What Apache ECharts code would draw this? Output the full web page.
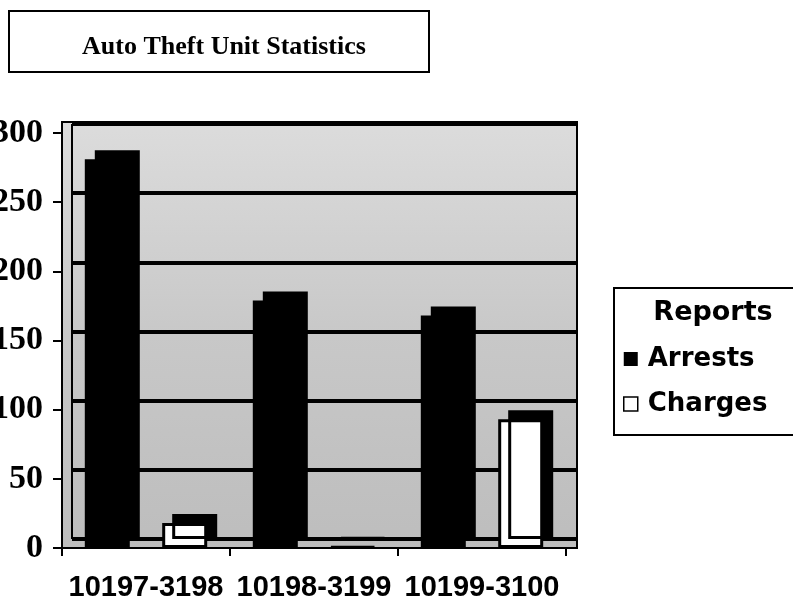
<!DOCTYPE html>
<html>
<head>
<meta charset="utf-8">
<script src="https://cdn.jsdelivr.net/npm/echarts@6/dist/echarts.min.js"></script>
<style>html,body{margin:0;padding:0;background:#fff}#c{width:793px;height:607px}</style>
</head>
<body>
<div id="c"></div>
<script>
var categories = ['10197-3198', '10198-3199', '10199-3100'];
var arrests = [281, 179, 168];
var charges = [18, 1, 93];
var yTicks = [0, 50, 100, 150, 200, 250, 300];
var titleText = 'Auto Theft Unit Statistics';
var legendTitle = 'Reports';

var chart = echarts.init(document.getElementById('c'), null, {renderer: 'canvas'});
var barShadow = {shadowColor: '#000', shadowBlur: 0, shadowOffsetX: 10, shadowOffsetY: -9};
var option = {
  backgroundColor: '#fff',
  animation: false,
  graphic: [
    {type: 'rect', shape: {x: 9, y: 11, width: 420, height: 61}, style: {fill: '#fff', stroke: '#000', lineWidth: 2}, z: 0},
    {type: 'rect', shape: {x: 62, y: 122, width: 515, height: 426},
      style: {fill: new echarts.graphic.LinearGradient(0, 0, 0, 1, [
        {offset: 0, color: '#dcdcdc'}, {offset: 0.5, color: '#c8c8c8'}, {offset: 1, color: '#bdbdbd'}]),
        stroke: '#000', lineWidth: 2}, z: -10},
    {type: 'line', shape: {x1: 72, y1: 124, x2: 72, y2: 539}, style: {stroke: '#000', lineWidth: 2}, z: -5},
    {type: 'rect', shape: {x: 614, y: 288, width: 200, height: 147}, style: {fill: '#fff', stroke: '#000', lineWidth: 2}, z: 0},
    {type: 'text', x: 713, y: 313, style: {text: legendTitle, font: 'bold 27px "DejaVu Sans", sans-serif', fill: '#000', align: 'center', verticalAlign: 'middle'}, z: 5}
  ],
  title: {
    text: titleText, left: 219, top: 29, textAlign: 'center',
    textStyle: {fontFamily: '"Liberation Serif", "Times New Roman", serif', fontWeight: 'bold', fontSize: 26, color: '#000'}
  },
  legend: {
    orient: 'vertical', left: 618, top: 341, itemGap: 19, itemWidth: 14, itemHeight: 14,
    textStyle: {fontFamily: '"DejaVu Sans", sans-serif', fontWeight: 'bold', fontSize: 26, color: '#000', padding: [0, 0, 0, 5]},
    data: [
      {name: 'Arrests', icon: 'rect', itemStyle: {color: '#000', shadowOffsetX: 0, shadowOffsetY: 0, shadowColor: 'transparent'}},
      {name: 'Charges', icon: 'rect', itemStyle: {color: '#fff', borderColor: '#000', borderWidth: 1.5, shadowOffsetX: 0, shadowOffsetY: 0, shadowColor: 'transparent'}}
    ]
  },
  grid: [
    {left: 72, right: 216, top: 124, bottom: 68, show: false, containLabel: false, outerBoundsMode: 'none'},
    {left: 62, right: 227, top: 133, bottom: 59, show: false, containLabel: false, outerBoundsMode: 'none'}
  ],
  xAxis: [
    {type: 'category', gridIndex: 0, data: categories, show: false},
    {type: 'category', gridIndex: 1, data: categories,
      axisLine: {show: true, lineStyle: {color: '#000', width: 2}},
      axisTick: {show: true, length: 8, lineStyle: {color: '#000', width: 2}},
      axisLabel: {interval: 0, hideOverlap: false, margin: 25, color: '#000', fontFamily: '"Liberation Sans", Arial, sans-serif', fontWeight: 'bold', fontSize: 29}
    }
  ],
  yAxis: [
    {type: 'value', gridIndex: 0, min: 0, max: 300, interval: 50,
      axisLine: {show: false}, axisTick: {show: false}, axisLabel: {show: false},
      splitLine: {show: true, lineStyle: {color: '#000', width: 4}}
    },
    {type: 'value', gridIndex: 1, min: 0, max: 300, interval: 50,
      axisLine: {show: true, lineStyle: {color: '#000', width: 2}},
      axisTick: {show: true, length: 9, lineStyle: {color: '#000', width: 2}},
      splitLine: {show: false},
      axisLabel: {margin: 19, color: '#000', fontFamily: '"Liberation Serif", "Times New Roman", serif', fontWeight: 'bold', fontSize: 34,
        formatter: function (v) { return yTicks.indexOf(v) >= 0 ? String(v) : ''; }}
    }
  ],
  series: [
    {name: 'Arrests', type: 'bar', xAxisIndex: 1, yAxisIndex: 1, data: arrests, barWidth: 45, barGap: '72%',
      itemStyle: Object.assign({color: '#000'}, barShadow)},
    {name: 'Charges', type: 'bar', xAxisIndex: 1, yAxisIndex: 1, data: charges, barWidth: 45, barGap: '72%',
      itemStyle: Object.assign({color: '#fff', borderColor: '#000', borderWidth: 3}, barShadow)}
  ]
};
chart.setOption(option);
</script>
</body>
</html>
